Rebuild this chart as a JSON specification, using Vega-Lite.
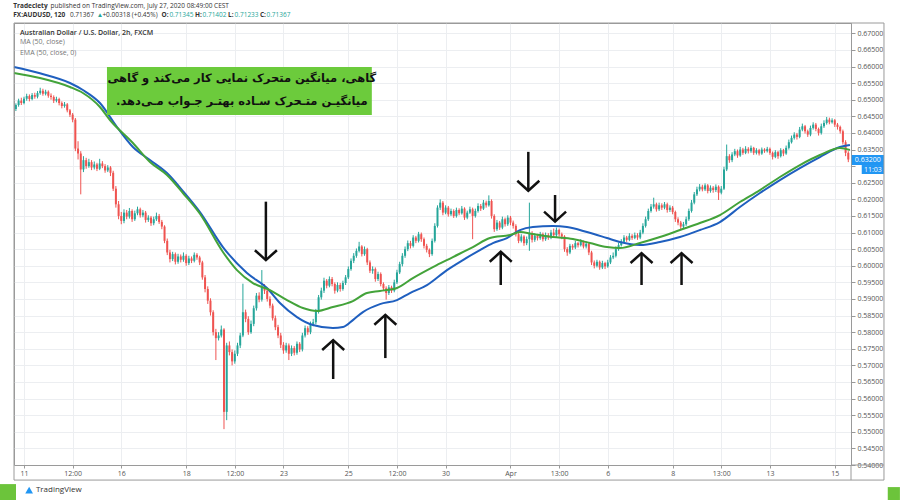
{
"$schema":"https://vega.github.io/schema/vega-lite/v6.json",
"width":837,"height":442,
"autosize":{"type":"none"},
"padding":{"left":14,"top":23,"right":49,"bottom":35},
"background":"white",
"config":{"view":{"stroke":"#9a9a9a"},"font":"Open Sans"},
"datasets":{
"candles":[
{"t":-3,"o":0.6472,"h":0.6489,"l":0.6466,"c":0.6484},
{"t":-2,"o":0.6484,"h":0.6503,"l":0.6479,"c":0.6497},
{"t":-1,"o":0.6497,"h":0.6506,"l":0.6484,"c":0.6490},
{"t":0,"o":0.6490,"h":0.6509,"l":0.6486,"c":0.6503},
{"t":1,"o":0.6503,"h":0.6518,"l":0.6497,"c":0.6511},
{"t":2,"o":0.6511,"h":0.6516,"l":0.6495,"c":0.6502},
{"t":3,"o":0.6502,"h":0.6520,"l":0.6498,"c":0.6514},
{"t":4,"o":0.6514,"h":0.6521,"l":0.6503,"c":0.6509},
{"t":5,"o":0.6509,"h":0.6526,"l":0.6504,"c":0.6520},
{"t":6,"o":0.6520,"h":0.6536,"l":0.6515,"c":0.6527},
{"t":7,"o":0.6527,"h":0.6533,"l":0.6512,"c":0.6518},
{"t":8,"o":0.6518,"h":0.6530,"l":0.6513,"c":0.6524},
{"t":9,"o":0.6524,"h":0.6528,"l":0.6506,"c":0.6512},
{"t":10,"o":0.6512,"h":0.6519,"l":0.6500,"c":0.6508},
{"t":11,"o":0.6508,"h":0.6513,"l":0.6490,"c":0.6497},
{"t":12,"o":0.6497,"h":0.6509,"l":0.6492,"c":0.6502},
{"t":13,"o":0.6502,"h":0.6506,"l":0.6483,"c":0.6490},
{"t":14,"o":0.6490,"h":0.6495,"l":0.6474,"c":0.6481},
{"t":15,"o":0.6481,"h":0.6493,"l":0.6476,"c":0.6486},
{"t":16,"o":0.6486,"h":0.6490,"l":0.6462,"c":0.6468},
{"t":17,"o":0.6468,"h":0.6472,"l":0.6448,"c":0.6455},
{"t":18,"o":0.6455,"h":0.6460,"l":0.6432,"c":0.6440},
{"t":19,"o":0.6440,"h":0.6445,"l":0.6345,"c":0.6353},
{"t":20,"o":0.6353,"h":0.6375,"l":0.6320,"c":0.6338},
{"t":21,"o":0.6338,"h":0.6345,"l":0.6215,"c":0.6290},
{"t":22,"o":0.6290,"h":0.6330,"l":0.6282,"c":0.6318},
{"t":23,"o":0.6318,"h":0.6325,"l":0.6292,"c":0.6300},
{"t":24,"o":0.6300,"h":0.6322,"l":0.6295,"c":0.6312},
{"t":25,"o":0.6312,"h":0.6318,"l":0.6288,"c":0.6296},
{"t":26,"o":0.6296,"h":0.6314,"l":0.6290,"c":0.6305},
{"t":27,"o":0.6305,"h":0.6310,"l":0.6285,"c":0.6292},
{"t":28,"o":0.6292,"h":0.6322,"l":0.6288,"c":0.6308},
{"t":29,"o":0.6308,"h":0.6315,"l":0.6294,"c":0.6300},
{"t":30,"o":0.6300,"h":0.6306,"l":0.6280,"c":0.6287},
{"t":31,"o":0.6287,"h":0.6303,"l":0.6282,"c":0.6296},
{"t":32,"o":0.6296,"h":0.6300,"l":0.6270,"c":0.6280},
{"t":33,"o":0.6280,"h":0.6286,"l":0.6225,"c":0.6232},
{"t":34,"o":0.6232,"h":0.6240,"l":0.6175,"c":0.6185},
{"t":35,"o":0.6185,"h":0.6195,"l":0.6140,"c":0.6150},
{"t":36,"o":0.6150,"h":0.6162,"l":0.6125,"c":0.6135},
{"t":37,"o":0.6135,"h":0.6170,"l":0.6128,"c":0.6160},
{"t":38,"o":0.6160,"h":0.6168,"l":0.6140,"c":0.6148},
{"t":39,"o":0.6148,"h":0.6174,"l":0.6142,"c":0.6165},
{"t":40,"o":0.6165,"h":0.6170,"l":0.6132,"c":0.6140},
{"t":41,"o":0.6140,"h":0.6166,"l":0.6135,"c":0.6158},
{"t":42,"o":0.6158,"h":0.6178,"l":0.6152,"c":0.6170},
{"t":43,"o":0.6170,"h":0.6175,"l":0.6145,"c":0.6152},
{"t":44,"o":0.6152,"h":0.6168,"l":0.6146,"c":0.6160},
{"t":45,"o":0.6160,"h":0.6165,"l":0.6130,"c":0.6138},
{"t":46,"o":0.6138,"h":0.6152,"l":0.6132,"c":0.6145},
{"t":47,"o":0.6145,"h":0.6150,"l":0.6120,"c":0.6128},
{"t":48,"o":0.6128,"h":0.6148,"l":0.6122,"c":0.6140},
{"t":49,"o":0.6140,"h":0.6160,"l":0.6135,"c":0.6150},
{"t":50,"o":0.6150,"h":0.6156,"l":0.6126,"c":0.6132},
{"t":51,"o":0.6132,"h":0.6138,"l":0.6110,"c":0.6118},
{"t":52,"o":0.6118,"h":0.6122,"l":0.6068,"c":0.6075},
{"t":53,"o":0.6075,"h":0.6082,"l":0.6032,"c":0.6040},
{"t":54,"o":0.6040,"h":0.6048,"l":0.6010,"c":0.6020},
{"t":55,"o":0.6020,"h":0.6042,"l":0.6014,"c":0.6035},
{"t":56,"o":0.6035,"h":0.6040,"l":0.6004,"c":0.6012},
{"t":57,"o":0.6012,"h":0.6036,"l":0.6006,"c":0.6028},
{"t":58,"o":0.6028,"h":0.6034,"l":0.6010,"c":0.6018},
{"t":59,"o":0.6018,"h":0.6040,"l":0.6012,"c":0.6030},
{"t":60,"o":0.6030,"h":0.6035,"l":0.6000,"c":0.6008},
{"t":61,"o":0.6008,"h":0.6030,"l":0.6002,"c":0.6022},
{"t":62,"o":0.6022,"h":0.6028,"l":0.6008,"c":0.6015},
{"t":63,"o":0.6015,"h":0.6040,"l":0.6010,"c":0.6033},
{"t":64,"o":0.6033,"h":0.6038,"l":0.6018,"c":0.6025},
{"t":65,"o":0.6025,"h":0.6030,"l":0.6002,"c":0.6010},
{"t":66,"o":0.6010,"h":0.6015,"l":0.5958,"c":0.5965},
{"t":67,"o":0.5965,"h":0.5972,"l":0.5920,"c":0.5930},
{"t":68,"o":0.5930,"h":0.5938,"l":0.5885,"c":0.5895},
{"t":69,"o":0.5895,"h":0.5902,"l":0.5850,"c":0.5860},
{"t":70,"o":0.5860,"h":0.5866,"l":0.5790,"c":0.5800},
{"t":71,"o":0.5800,"h":0.5810,"l":0.5716,"c":0.5782},
{"t":72,"o":0.5782,"h":0.5800,"l":0.5775,"c":0.5790},
{"t":73,"o":0.5790,"h":0.5820,"l":0.5784,"c":0.5808},
{"t":74,"o":0.5808,"h":0.5812,"l":0.5508,"c":0.5560},
{"t":75,"o":0.5560,"h":0.5768,"l":0.5535,"c":0.5760},
{"t":76,"o":0.5760,"h":0.5772,"l":0.5730,"c":0.5740},
{"t":77,"o":0.5740,"h":0.5748,"l":0.5700,"c":0.5712},
{"t":78,"o":0.5712,"h":0.5745,"l":0.5705,"c":0.5735},
{"t":79,"o":0.5735,"h":0.5768,"l":0.5728,"c":0.5760},
{"t":80,"o":0.5760,"h":0.5798,"l":0.5752,"c":0.5790},
{"t":81,"o":0.5790,"h":0.5946,"l":0.5785,"c":0.5860},
{"t":82,"o":0.5860,"h":0.5868,"l":0.5830,"c":0.5840},
{"t":83,"o":0.5840,"h":0.5848,"l":0.5792,"c":0.5800},
{"t":84,"o":0.5800,"h":0.5835,"l":0.5795,"c":0.5825},
{"t":85,"o":0.5825,"h":0.5880,"l":0.5818,"c":0.5872},
{"t":86,"o":0.5872,"h":0.5918,"l":0.5865,"c":0.5910},
{"t":87,"o":0.5910,"h":0.5920,"l":0.5890,"c":0.5898},
{"t":88,"o":0.5898,"h":0.5987,"l":0.5892,"c":0.5935},
{"t":89,"o":0.5935,"h":0.5945,"l":0.5915,"c":0.5925},
{"t":90,"o":0.5925,"h":0.5932,"l":0.5892,"c":0.5900},
{"t":91,"o":0.5900,"h":0.5908,"l":0.5872,"c":0.5880},
{"t":92,"o":0.5880,"h":0.5886,"l":0.5835,"c":0.5842},
{"t":93,"o":0.5842,"h":0.5850,"l":0.5806,"c":0.5815},
{"t":94,"o":0.5815,"h":0.5822,"l":0.5782,"c":0.5790},
{"t":95,"o":0.5790,"h":0.5798,"l":0.5752,"c":0.5762},
{"t":96,"o":0.5762,"h":0.5770,"l":0.5735,"c":0.5745},
{"t":97,"o":0.5745,"h":0.5768,"l":0.5738,"c":0.5760},
{"t":98,"o":0.5760,"h":0.5766,"l":0.5716,"c":0.5735},
{"t":99,"o":0.5735,"h":0.5760,"l":0.5728,"c":0.5752},
{"t":100,"o":0.5752,"h":0.5758,"l":0.5730,"c":0.5738},
{"t":101,"o":0.5738,"h":0.5772,"l":0.5732,"c":0.5765},
{"t":102,"o":0.5765,"h":0.5770,"l":0.5740,"c":0.5748},
{"t":103,"o":0.5748,"h":0.5798,"l":0.5742,"c":0.5790},
{"t":104,"o":0.5790,"h":0.5820,"l":0.5784,"c":0.5812},
{"t":105,"o":0.5812,"h":0.5818,"l":0.5792,"c":0.5800},
{"t":106,"o":0.5800,"h":0.5832,"l":0.5794,"c":0.5825},
{"t":107,"o":0.5825,"h":0.5840,"l":0.5818,"c":0.5830},
{"t":108,"o":0.5830,"h":0.5870,"l":0.5824,"c":0.5862},
{"t":109,"o":0.5862,"h":0.5912,"l":0.5856,"c":0.5905},
{"t":110,"o":0.5905,"h":0.5934,"l":0.5898,"c":0.5925},
{"t":111,"o":0.5925,"h":0.5964,"l":0.5918,"c":0.5955},
{"t":112,"o":0.5955,"h":0.5960,"l":0.5932,"c":0.5940},
{"t":113,"o":0.5940,"h":0.5968,"l":0.5935,"c":0.5960},
{"t":114,"o":0.5960,"h":0.5966,"l":0.5938,"c":0.5945},
{"t":115,"o":0.5945,"h":0.5950,"l":0.5916,"c":0.5925},
{"t":116,"o":0.5925,"h":0.5950,"l":0.5920,"c":0.5942},
{"t":117,"o":0.5942,"h":0.5948,"l":0.5922,"c":0.5930},
{"t":118,"o":0.5930,"h":0.5955,"l":0.5925,"c":0.5948},
{"t":119,"o":0.5948,"h":0.5972,"l":0.5942,"c":0.5965},
{"t":120,"o":0.5965,"h":0.5998,"l":0.5960,"c":0.5990},
{"t":121,"o":0.5990,"h":0.6022,"l":0.5985,"c":0.6015},
{"t":122,"o":0.6015,"h":0.6038,"l":0.6008,"c":0.6030},
{"t":123,"o":0.6030,"h":0.6052,"l":0.6024,"c":0.6045},
{"t":124,"o":0.6045,"h":0.6072,"l":0.6040,"c":0.6058},
{"t":125,"o":0.6058,"h":0.6062,"l":0.6028,"c":0.6035},
{"t":126,"o":0.6035,"h":0.6058,"l":0.6030,"c":0.6050},
{"t":127,"o":0.6050,"h":0.6054,"l":0.6002,"c":0.6010},
{"t":128,"o":0.6010,"h":0.6016,"l":0.5978,"c":0.5985},
{"t":129,"o":0.5985,"h":0.5998,"l":0.5976,"c":0.5990},
{"t":130,"o":0.5990,"h":0.5995,"l":0.5952,"c":0.5960},
{"t":131,"o":0.5960,"h":0.5982,"l":0.5954,"c":0.5975},
{"t":132,"o":0.5975,"h":0.5980,"l":0.5938,"c":0.5945},
{"t":133,"o":0.5945,"h":0.5950,"l":0.5925,"c":0.5932},
{"t":134,"o":0.5932,"h":0.5938,"l":0.5898,"c":0.5918},
{"t":135,"o":0.5918,"h":0.5942,"l":0.5912,"c":0.5935},
{"t":136,"o":0.5935,"h":0.5940,"l":0.5918,"c":0.5925},
{"t":137,"o":0.5925,"h":0.5958,"l":0.5920,"c":0.5950},
{"t":138,"o":0.5950,"h":0.5988,"l":0.5945,"c":0.5980},
{"t":139,"o":0.5980,"h":0.6012,"l":0.5975,"c":0.6005},
{"t":140,"o":0.6005,"h":0.6038,"l":0.5998,"c":0.6030},
{"t":141,"o":0.6030,"h":0.6058,"l":0.6024,"c":0.6050},
{"t":142,"o":0.6050,"h":0.6076,"l":0.6044,"c":0.6068},
{"t":143,"o":0.6068,"h":0.6075,"l":0.6052,"c":0.6060},
{"t":144,"o":0.6060,"h":0.6092,"l":0.6055,"c":0.6085},
{"t":145,"o":0.6085,"h":0.6090,"l":0.6068,"c":0.6075},
{"t":146,"o":0.6075,"h":0.6102,"l":0.6070,"c":0.6095},
{"t":147,"o":0.6095,"h":0.6100,"l":0.6072,"c":0.6080},
{"t":148,"o":0.6080,"h":0.6085,"l":0.6052,"c":0.6060},
{"t":149,"o":0.6060,"h":0.6066,"l":0.6040,"c":0.6048},
{"t":150,"o":0.6048,"h":0.6052,"l":0.6026,"c":0.6035},
{"t":151,"o":0.6035,"h":0.6082,"l":0.6030,"c":0.6075},
{"t":152,"o":0.6075,"h":0.6128,"l":0.6070,"c":0.6120},
{"t":153,"o":0.6120,"h":0.6182,"l":0.6115,"c":0.6175},
{"t":154,"o":0.6175,"h":0.6200,"l":0.6168,"c":0.6190},
{"t":155,"o":0.6190,"h":0.6195,"l":0.6152,"c":0.6160},
{"t":156,"o":0.6160,"h":0.6182,"l":0.6155,"c":0.6175},
{"t":157,"o":0.6175,"h":0.6180,"l":0.6148,"c":0.6155},
{"t":158,"o":0.6155,"h":0.6172,"l":0.6150,"c":0.6165},
{"t":159,"o":0.6165,"h":0.6170,"l":0.6144,"c":0.6150},
{"t":160,"o":0.6150,"h":0.6175,"l":0.6145,"c":0.6168},
{"t":161,"o":0.6168,"h":0.6173,"l":0.6152,"c":0.6158},
{"t":162,"o":0.6158,"h":0.6180,"l":0.6154,"c":0.6172},
{"t":163,"o":0.6172,"h":0.6176,"l":0.6138,"c":0.6145},
{"t":164,"o":0.6145,"h":0.6166,"l":0.6140,"c":0.6160},
{"t":165,"o":0.6160,"h":0.6178,"l":0.6156,"c":0.6170},
{"t":166,"o":0.6170,"h":0.6175,"l":0.6080,"c":0.6150},
{"t":167,"o":0.6150,"h":0.6172,"l":0.6145,"c":0.6165},
{"t":168,"o":0.6165,"h":0.6188,"l":0.6160,"c":0.6180},
{"t":169,"o":0.6180,"h":0.6186,"l":0.6165,"c":0.6172},
{"t":170,"o":0.6172,"h":0.6198,"l":0.6168,"c":0.6190},
{"t":171,"o":0.6190,"h":0.6196,"l":0.6175,"c":0.6182},
{"t":172,"o":0.6182,"h":0.6212,"l":0.6178,"c":0.6195},
{"t":173,"o":0.6195,"h":0.6200,"l":0.6142,"c":0.6150},
{"t":174,"o":0.6150,"h":0.6155,"l":0.6102,"c":0.6110},
{"t":175,"o":0.6110,"h":0.6138,"l":0.6105,"c":0.6130},
{"t":176,"o":0.6130,"h":0.6135,"l":0.6108,"c":0.6115},
{"t":177,"o":0.6115,"h":0.6148,"l":0.6110,"c":0.6140},
{"t":178,"o":0.6140,"h":0.6145,"l":0.6118,"c":0.6125},
{"t":179,"o":0.6125,"h":0.6152,"l":0.6120,"c":0.6145},
{"t":180,"o":0.6145,"h":0.6150,"l":0.6122,"c":0.6130},
{"t":181,"o":0.6130,"h":0.6136,"l":0.6112,"c":0.6120},
{"t":182,"o":0.6120,"h":0.6125,"l":0.6088,"c":0.6095},
{"t":183,"o":0.6095,"h":0.6100,"l":0.6068,"c":0.6075},
{"t":184,"o":0.6075,"h":0.6095,"l":0.6070,"c":0.6088},
{"t":185,"o":0.6088,"h":0.6092,"l":0.6060,"c":0.6068},
{"t":186,"o":0.6068,"h":0.6088,"l":0.6062,"c":0.6080},
{"t":187,"o":0.6080,"h":0.6190,"l":0.6045,"c":0.6098},
{"t":188,"o":0.6098,"h":0.6104,"l":0.6070,"c":0.6078},
{"t":189,"o":0.6078,"h":0.6098,"l":0.6072,"c":0.6090},
{"t":190,"o":0.6090,"h":0.6096,"l":0.6076,"c":0.6083},
{"t":191,"o":0.6083,"h":0.6102,"l":0.6078,"c":0.6095},
{"t":192,"o":0.6095,"h":0.6100,"l":0.6073,"c":0.6080},
{"t":193,"o":0.6080,"h":0.6100,"l":0.6075,"c":0.6092},
{"t":194,"o":0.6092,"h":0.6098,"l":0.6078,"c":0.6085},
{"t":195,"o":0.6085,"h":0.6108,"l":0.6080,"c":0.6100},
{"t":196,"o":0.6100,"h":0.6112,"l":0.6086,"c":0.6092},
{"t":197,"o":0.6092,"h":0.6115,"l":0.6086,"c":0.6108},
{"t":198,"o":0.6108,"h":0.6112,"l":0.6088,"c":0.6095},
{"t":199,"o":0.6095,"h":0.6100,"l":0.6080,"c":0.6088},
{"t":200,"o":0.6088,"h":0.6092,"l":0.6042,"c":0.6050},
{"t":201,"o":0.6050,"h":0.6056,"l":0.6030,"c":0.6040},
{"t":202,"o":0.6040,"h":0.6066,"l":0.6035,"c":0.6060},
{"t":203,"o":0.6060,"h":0.6065,"l":0.6048,"c":0.6055},
{"t":204,"o":0.6055,"h":0.6075,"l":0.6050,"c":0.6068},
{"t":205,"o":0.6068,"h":0.6072,"l":0.6055,"c":0.6062},
{"t":206,"o":0.6062,"h":0.6080,"l":0.6058,"c":0.6072},
{"t":207,"o":0.6072,"h":0.6076,"l":0.6052,"c":0.6058},
{"t":208,"o":0.6058,"h":0.6073,"l":0.6052,"c":0.6066},
{"t":209,"o":0.6066,"h":0.6070,"l":0.6032,"c":0.6040},
{"t":210,"o":0.6040,"h":0.6045,"l":0.6002,"c":0.6010},
{"t":211,"o":0.6010,"h":0.6016,"l":0.5992,"c":0.6000},
{"t":212,"o":0.6000,"h":0.6018,"l":0.5995,"c":0.6012},
{"t":213,"o":0.6012,"h":0.6016,"l":0.5988,"c":0.5995},
{"t":214,"o":0.5995,"h":0.6015,"l":0.5990,"c":0.6008},
{"t":215,"o":0.6008,"h":0.6012,"l":0.5990,"c":0.5998},
{"t":216,"o":0.5998,"h":0.6018,"l":0.5994,"c":0.6010},
{"t":217,"o":0.6010,"h":0.6032,"l":0.6005,"c":0.6025},
{"t":218,"o":0.6025,"h":0.6040,"l":0.6020,"c":0.6030},
{"t":219,"o":0.6030,"h":0.6058,"l":0.6025,"c":0.6050},
{"t":220,"o":0.6050,"h":0.6070,"l":0.6045,"c":0.6062},
{"t":221,"o":0.6062,"h":0.6080,"l":0.6058,"c":0.6072},
{"t":222,"o":0.6072,"h":0.6092,"l":0.6068,"c":0.6085},
{"t":223,"o":0.6085,"h":0.6090,"l":0.6072,"c":0.6078},
{"t":224,"o":0.6078,"h":0.6098,"l":0.6074,"c":0.6090},
{"t":225,"o":0.6090,"h":0.6095,"l":0.6078,"c":0.6084},
{"t":226,"o":0.6084,"h":0.6100,"l":0.6080,"c":0.6092},
{"t":227,"o":0.6092,"h":0.6098,"l":0.6078,"c":0.6085},
{"t":228,"o":0.6085,"h":0.6108,"l":0.6080,"c":0.6100},
{"t":229,"o":0.6100,"h":0.6128,"l":0.6095,"c":0.6120},
{"t":230,"o":0.6120,"h":0.6148,"l":0.6115,"c":0.6140},
{"t":231,"o":0.6140,"h":0.6172,"l":0.6135,"c":0.6165},
{"t":232,"o":0.6165,"h":0.6186,"l":0.6160,"c":0.6178},
{"t":233,"o":0.6178,"h":0.6205,"l":0.6172,"c":0.6185},
{"t":234,"o":0.6185,"h":0.6190,"l":0.6163,"c":0.6170},
{"t":235,"o":0.6170,"h":0.6190,"l":0.6165,"c":0.6182},
{"t":236,"o":0.6182,"h":0.6188,"l":0.6168,"c":0.6175},
{"t":237,"o":0.6175,"h":0.6192,"l":0.6170,"c":0.6185},
{"t":238,"o":0.6185,"h":0.6190,"l":0.6160,"c":0.6168},
{"t":239,"o":0.6168,"h":0.6182,"l":0.6162,"c":0.6175},
{"t":240,"o":0.6175,"h":0.6180,"l":0.6155,"c":0.6162},
{"t":241,"o":0.6162,"h":0.6166,"l":0.6132,"c":0.6140},
{"t":242,"o":0.6140,"h":0.6146,"l":0.6122,"c":0.6130},
{"t":243,"o":0.6130,"h":0.6135,"l":0.6108,"c":0.6118},
{"t":244,"o":0.6118,"h":0.6132,"l":0.6112,"c":0.6125},
{"t":245,"o":0.6125,"h":0.6148,"l":0.6120,"c":0.6140},
{"t":246,"o":0.6140,"h":0.6172,"l":0.6135,"c":0.6165},
{"t":247,"o":0.6165,"h":0.6198,"l":0.6160,"c":0.6190},
{"t":248,"o":0.6190,"h":0.6222,"l":0.6185,"c":0.6215},
{"t":249,"o":0.6215,"h":0.6238,"l":0.6210,"c":0.6230},
{"t":250,"o":0.6230,"h":0.6246,"l":0.6224,"c":0.6238},
{"t":251,"o":0.6238,"h":0.6244,"l":0.6224,"c":0.6230},
{"t":252,"o":0.6230,"h":0.6248,"l":0.6225,"c":0.6242},
{"t":253,"o":0.6242,"h":0.6246,"l":0.6218,"c":0.6225},
{"t":254,"o":0.6225,"h":0.6242,"l":0.6220,"c":0.6235},
{"t":255,"o":0.6235,"h":0.6240,"l":0.6220,"c":0.6228},
{"t":256,"o":0.6228,"h":0.6245,"l":0.6222,"c":0.6238},
{"t":257,"o":0.6238,"h":0.6242,"l":0.6198,"c":0.6220},
{"t":258,"o":0.6220,"h":0.6240,"l":0.6215,"c":0.6232},
{"t":259,"o":0.6232,"h":0.6298,"l":0.6228,"c":0.6290},
{"t":260,"o":0.6290,"h":0.6365,"l":0.6285,"c":0.6330},
{"t":261,"o":0.6330,"h":0.6336,"l":0.6310,"c":0.6318},
{"t":262,"o":0.6318,"h":0.6342,"l":0.6312,"c":0.6335},
{"t":263,"o":0.6335,"h":0.6352,"l":0.6330,"c":0.6345},
{"t":264,"o":0.6345,"h":0.6350,"l":0.6325,"c":0.6332},
{"t":265,"o":0.6332,"h":0.6358,"l":0.6328,"c":0.6350},
{"t":266,"o":0.6350,"h":0.6355,"l":0.6334,"c":0.6340},
{"t":267,"o":0.6340,"h":0.6360,"l":0.6336,"c":0.6352},
{"t":268,"o":0.6352,"h":0.6357,"l":0.6338,"c":0.6345},
{"t":269,"o":0.6345,"h":0.6362,"l":0.6340,"c":0.6355},
{"t":270,"o":0.6355,"h":0.6358,"l":0.6334,"c":0.6340},
{"t":271,"o":0.6340,"h":0.6354,"l":0.6335,"c":0.6348},
{"t":272,"o":0.6348,"h":0.6352,"l":0.6332,"c":0.6338},
{"t":273,"o":0.6338,"h":0.6356,"l":0.6334,"c":0.6350},
{"t":274,"o":0.6350,"h":0.6354,"l":0.6340,"c":0.6345},
{"t":275,"o":0.6345,"h":0.6358,"l":0.6341,"c":0.6352},
{"t":276,"o":0.6352,"h":0.6356,"l":0.6334,"c":0.6340},
{"t":277,"o":0.6340,"h":0.6344,"l":0.6320,"c":0.6328},
{"t":278,"o":0.6328,"h":0.6348,"l":0.6324,"c":0.6342},
{"t":279,"o":0.6342,"h":0.6346,"l":0.6322,"c":0.6330},
{"t":280,"o":0.6330,"h":0.6354,"l":0.6326,"c":0.6348},
{"t":281,"o":0.6348,"h":0.6352,"l":0.6330,"c":0.6338},
{"t":282,"o":0.6338,"h":0.6362,"l":0.6334,"c":0.6355},
{"t":283,"o":0.6355,"h":0.6380,"l":0.6350,"c":0.6372},
{"t":284,"o":0.6372,"h":0.6392,"l":0.6368,"c":0.6385},
{"t":285,"o":0.6385,"h":0.6402,"l":0.6380,"c":0.6395},
{"t":286,"o":0.6395,"h":0.6400,"l":0.6380,"c":0.6388},
{"t":287,"o":0.6388,"h":0.6418,"l":0.6384,"c":0.6410},
{"t":288,"o":0.6410,"h":0.6428,"l":0.6405,"c":0.6420},
{"t":289,"o":0.6420,"h":0.6424,"l":0.6398,"c":0.6405},
{"t":290,"o":0.6405,"h":0.6410,"l":0.6388,"c":0.6395},
{"t":291,"o":0.6395,"h":0.6422,"l":0.6390,"c":0.6415},
{"t":292,"o":0.6415,"h":0.6432,"l":0.6410,"c":0.6425},
{"t":293,"o":0.6425,"h":0.6430,"l":0.6405,"c":0.6412},
{"t":294,"o":0.6412,"h":0.6416,"l":0.6392,"c":0.6400},
{"t":295,"o":0.6400,"h":0.6428,"l":0.6395,"c":0.6420},
{"t":296,"o":0.6420,"h":0.6438,"l":0.6415,"c":0.6430},
{"t":297,"o":0.6430,"h":0.6448,"l":0.6425,"c":0.6440},
{"t":298,"o":0.6440,"h":0.6446,"l":0.6426,"c":0.6432},
{"t":299,"o":0.6432,"h":0.6444,"l":0.6428,"c":0.6438},
{"t":300,"o":0.6438,"h":0.6442,"l":0.6418,"c":0.6425},
{"t":301,"o":0.6425,"h":0.6430,"l":0.6410,"c":0.6418},
{"t":302,"o":0.6418,"h":0.6422,"l":0.6398,"c":0.6405},
{"t":303,"o":0.6405,"h":0.6410,"l":0.6365,"c":0.6372},
{"t":304,"o":0.6372,"h":0.6378,"l":0.6330,"c":0.6340},
{"t":305,"o":0.6340,"h":0.6345,"l":0.6312,"c":0.6320}
],
"ma":[
{"t":-3.7,"p":0.65985,"s":"MA"},{"t":5.9,"p":0.65795,"s":"MA"},{"t":17.0,"p":0.65503,"s":"MA"},{"t":21.8,"p":0.65292,"s":"MA"},{"t":28.1,"p":0.64901,"s":"MA"},{"t":34.4,"p":0.64178,"s":"MA"},{"t":40.3,"p":0.63575,"s":"MA"},{"t":46.6,"p":0.63184,"s":"MA"},{"t":52.9,"p":0.62792,"s":"MA"},{"t":58.8,"p":0.6225,"s":"MA"},{"t":65.1,"p":0.61617,"s":"MA"},{"t":73.6,"p":0.60563,"s":"MA"},{"t":82.5,"p":0.5978,"s":"MA"},{"t":89.9,"p":0.59328,"s":"MA"},{"t":94.7,"p":0.58877,"s":"MA"},{"t":101.0,"p":0.58455,"s":"MA"},{"t":106.9,"p":0.58214,"s":"MA"},{"t":114.3,"p":0.58123,"s":"MA"},{"t":118.0,"p":0.58153,"s":"MA"},{"t":121.7,"p":0.58364,"s":"MA"},{"t":125.4,"p":0.58605,"s":"MA"},{"t":131.7,"p":0.58846,"s":"MA"},{"t":138.0,"p":0.58967,"s":"MA"},{"t":142.8,"p":0.59178,"s":"MA"},{"t":149.1,"p":0.59419,"s":"MA"},{"t":156.5,"p":0.5987,"s":"MA"},{"t":162.4,"p":0.60172,"s":"MA"},{"t":168.7,"p":0.60473,"s":"MA"},{"t":173.5,"p":0.60684,"s":"MA"},{"t":178.7,"p":0.60834,"s":"MA"},{"t":183.5,"p":0.61075,"s":"MA"},{"t":188.3,"p":0.61166,"s":"MA"},{"t":195.7,"p":0.61196,"s":"MA"},{"t":200.9,"p":0.61166,"s":"MA"},{"t":208.3,"p":0.61015,"s":"MA"},{"t":215.7,"p":0.60834,"s":"MA"},{"t":220.5,"p":0.60714,"s":"MA"},{"t":227.9,"p":0.60623,"s":"MA"},{"t":235.3,"p":0.60714,"s":"MA"},{"t":242.7,"p":0.60864,"s":"MA"},{"t":250.1,"p":0.61075,"s":"MA"},{"t":257.5,"p":0.61316,"s":"MA"},{"t":264.9,"p":0.61768,"s":"MA"},{"t":272.3,"p":0.6219,"s":"MA"},{"t":279.7,"p":0.62581,"s":"MA"},{"t":287.1,"p":0.62943,"s":"MA"},{"t":294.5,"p":0.63274,"s":"MA"},{"t":301.9,"p":0.63575,"s":"MA"},{"t":305.6,"p":0.63636,"s":"MA"},
{"t":-3.7,"p":0.65804,"s":"EMA"},{"t":5.9,"p":0.65654,"s":"EMA"},{"t":17.0,"p":0.65383,"s":"EMA"},{"t":21.8,"p":0.65202,"s":"EMA"},{"t":28.1,"p":0.6478,"s":"EMA"},{"t":31.8,"p":0.64389,"s":"EMA"},{"t":40.3,"p":0.63696,"s":"EMA"},{"t":46.6,"p":0.63124,"s":"EMA"},{"t":52.9,"p":0.62732,"s":"EMA"},{"t":58.8,"p":0.6219,"s":"EMA"},{"t":65.1,"p":0.61567,"s":"EMA"},{"t":73.6,"p":0.60413,"s":"EMA"},{"t":78.8,"p":0.5987,"s":"EMA"},{"t":84.7,"p":0.59479,"s":"EMA"},{"t":91.0,"p":0.59268,"s":"EMA"},{"t":97.3,"p":0.58967,"s":"EMA"},{"t":103.2,"p":0.58726,"s":"EMA"},{"t":108.4,"p":0.58636,"s":"EMA"},{"t":114.3,"p":0.58756,"s":"EMA"},{"t":121.7,"p":0.58937,"s":"EMA"},{"t":126.9,"p":0.59178,"s":"EMA"},{"t":131.7,"p":0.59238,"s":"EMA"},{"t":138.0,"p":0.59328,"s":"EMA"},{"t":143.9,"p":0.5963,"s":"EMA"},{"t":151.3,"p":0.59961,"s":"EMA"},{"t":158.7,"p":0.60262,"s":"EMA"},{"t":166.1,"p":0.60563,"s":"EMA"},{"t":172.4,"p":0.60834,"s":"EMA"},{"t":179.8,"p":0.60925,"s":"EMA"},{"t":183.5,"p":0.61015,"s":"EMA"},{"t":188.3,"p":0.60955,"s":"EMA"},{"t":195.7,"p":0.60864,"s":"EMA"},{"t":203.1,"p":0.60804,"s":"EMA"},{"t":209.4,"p":0.60684,"s":"EMA"},{"t":215.7,"p":0.60563,"s":"EMA"},{"t":220.5,"p":0.60533,"s":"EMA"},{"t":227.9,"p":0.60684,"s":"EMA"},{"t":235.3,"p":0.60864,"s":"EMA"},{"t":242.7,"p":0.61075,"s":"EMA"},{"t":250.1,"p":0.61286,"s":"EMA"},{"t":257.5,"p":0.61527,"s":"EMA"},{"t":264.9,"p":0.61919,"s":"EMA"},{"t":272.3,"p":0.6228,"s":"EMA"},{"t":279.7,"p":0.62672,"s":"EMA"},{"t":287.1,"p":0.63033,"s":"EMA"},{"t":294.5,"p":0.63334,"s":"EMA"},{"t":301.9,"p":0.63545,"s":"EMA"},{"t":305.6,"p":0.63485,"s":"EMA"}
],
"arrows":[
{"t":89.5,"p":0.6017,"p2":0.6193,"dir":"down"},
{"t":114.4,"p":0.5776,"p2":0.5659,"dir":"up"},
{"t":133.7,"p":0.5852,"p2":0.5722,"dir":"up"},
{"t":176.4,"p":0.6042,"p2":0.5942,"dir":"up"},
{"t":186.6,"p":0.6226,"p2":0.6343,"dir":"down"},
{"t":196.5,"p":0.6133,"p2":0.6213,"dir":"down"},
{"t":228.5,"p":0.6038,"p2":0.5942,"dir":"up"},
{"t":243.3,"p":0.6038,"p2":0.5942,"dir":"up"}
]
},
"encoding":{
"x":{"field":"t","type":"quantitative","scale":{"domain":[-3.7,306.0],"nice":false,"zero":false,"padding":0},
"axis":{"title":null,"values":[0,18,36,60,78,96,120,138,156,180,198,216,240,258,276,300],"labelExpr":"['11','12:00','16','18','12:00','23','25','12:00','30','Apr','13:00','6','8','13:00','13','15'][indexof([0,18,36,60,78,96,120,138,156,180,198,216,240,258,276,300], datum.value)]","labelFontSize":7,"labelColor":"#555","labelFont":"Open Sans","tickSize":3,"tickColor":"#999","domainColor":"#9a9a9a","gridColor":"#eceef1","grid":true,"labelPadding":1,"labelFlush":false}},
"y":{"field":"p","type":"quantitative","scale":{"domain":[0.54,0.6731],"nice":false,"zero":false},
"axis":{"title":null,"orient":"right","values":[0.54,0.545,0.55,0.555,0.56,0.565,0.57,0.575,0.58,0.585,0.59,0.595,0.6,0.605,0.61,0.615,0.62,0.625,0.63,0.635,0.64,0.645,0.65,0.655,0.66,0.665,0.67],"labelExpr":"datum.value > 0.6299 && datum.value < 0.6301 ? '' : format(datum.value, '.5f')","labelFontSize":7,"labelColor":"#555","labelFont":"Open Sans","tickSize":4,"tickColor":"#999","domainColor":"#9a9a9a","gridColor":"#eceef1","grid":true,"labelPadding":2}}
},
"layer":[
{"data":{"name":"candles"},"mark":{"type":"rule","strokeWidth":1},
 "encoding":{"y":{"field":"l","type":"quantitative","scale":{"domain":[0.54,0.6731],"nice":false,"zero":false},
  "axis":{"title":null,"orient":"right","values":[0.54,0.545,0.55,0.555,0.56,0.565,0.57,0.575,0.58,0.585,0.59,0.595,0.6,0.605,0.61,0.615,0.62,0.625,0.63,0.635,0.64,0.645,0.65,0.655,0.66,0.665,0.67],"labelExpr":"datum.value > 0.6299 && datum.value < 0.6301 ? '' : format(datum.value, '.5f')","labelFontSize":7,"labelColor":"#555","labelFont":"Open Sans","tickSize":4,"tickColor":"#999","domainColor":"#9a9a9a","gridColor":"#eceef1","grid":true,"labelPadding":2}},
  "y2":{"field":"h"},
  "color":{"condition":{"test":"datum.c >= datum.o","value":"#26a69a"},"value":"#ef5350"}}},
{"data":{"name":"candles"},"mark":{"type":"bar","size":2},
 "encoding":{"y":{"field":"o","type":"quantitative","scale":{"domain":[0.54,0.6731],"nice":false,"zero":false},
  "axis":{"title":null,"orient":"right","values":[0.54,0.545,0.55,0.555,0.56,0.565,0.57,0.575,0.58,0.585,0.59,0.595,0.6,0.605,0.61,0.615,0.62,0.625,0.63,0.635,0.64,0.645,0.65,0.655,0.66,0.665,0.67],"labelExpr":"datum.value > 0.6299 && datum.value < 0.6301 ? '' : format(datum.value, '.5f')","labelFontSize":7,"labelColor":"#555","labelFont":"Open Sans","tickSize":4,"tickColor":"#999","domainColor":"#9a9a9a","gridColor":"#eceef1","grid":true,"labelPadding":2}},
  "y2":{"field":"c"},
  "color":{"condition":{"test":"datum.c >= datum.o","value":"#26a69a"},"value":"#ef5350"}}},
{"data":{"name":"ma"},"mark":{"type":"line","strokeWidth":2,"interpolate":"monotone"},
 "encoding":{"color":{"field":"s","type":"nominal","scale":{"domain":["MA","EMA"],"range":["#1f5fbf","#43a33a"]},"legend":null}}},
{"data":{"values":[{"t":30.7,"t2":128.7,"p":0.65985,"p2":0.64539}]},"mark":{"type":"rect","color":"#6ccb3c"},
 "encoding":{"x2":{"field":"t2"},"y2":{"field":"p2"}}},
{"data":{"values":[{"t":80.6,"p":0.65624,"text":"\u200fگاهی، میانگین متحرک نمایی کار می\u200cکند و گاهی\u200f"},{"t":80.6,"p":0.64931,"text":"\u200fمیانگیـن متـحرک سـاده بهتـر جـواب مـی\u200cدهد.\u200f"}]},
 "mark":{"type":"text","font":"DejaVu Sans","fontSize":11.5,"fontWeight":"bold","color":"#111","align":"center","baseline":"middle"},
 "encoding":{"text":{"field":"text"}}},
{"data":{"name":"arrows"},"mark":{"type":"rule","strokeWidth":2.5,"color":"#111"},
 "encoding":{"y2":{"field":"p2"}}},
{"data":{"name":"arrows"},"mark":{"type":"point","filled":false,"stroke":"#111","strokeWidth":2.5,"size":484,"opacity":1},
 "encoding":{"shape":{"field":"dir","type":"nominal","scale":{"domain":["down","up"],"range":["M-1,-0.9L0,0L1,-0.9","M-1,0.9L0,0L1,0.9"]},"legend":null}}},
{"data":{"values":[{"t":-1.5,"p":0.67004,"text":"Australian Dollar / U.S. Dollar, 2h, FXCM"}]},
 "mark":{"type":"text","font":"Open Sans","fontSize":7,"fontWeight":600,"color":"#333","align":"left","baseline":"middle"},
 "encoding":{"text":{"field":"text"}}},
{"data":{"values":[{"t":-1.5,"p":0.66738,"text":"MA (50, close)"},{"t":-1.5,"p":0.66407,"text":"EMA (50, close, 0)"}]},
 "mark":{"type":"text","font":"Open Sans","fontSize":7,"color":"#777","align":"left","baseline":"middle"},
 "encoding":{"text":{"field":"text"}}},
{"data":{"values":[{"t":-3.96,"p":0.67822,"text":"Tradeciety"},{"t":-3.96,"p":0.67536,"text":"FX:AUDUSD, 120"},{"t":50.9,"p":0.67536,"text":"O:"},{"t":63.3,"p":0.67536,"text":"H:"},{"t":75.5,"p":0.67536,"text":"L:"},{"t":87.3,"p":0.67536,"text":"C:"}]},
 "mark":{"type":"text","font":"Open Sans","fontSize":6.5,"fontWeight":"bold","color":"#333","align":"left","baseline":"middle"},
 "encoding":{"text":{"field":"text"}}},
{"data":{"values":[{"t":9.8,"p":0.67822,"text":"published on TradingView.com, July 27, 2020 08:49:00 CEST"},{"t":17.0,"p":0.67536,"text":"0.71367"},{"t":29.0,"p":0.67536,"text":"+0.00318 (+0.45%)"}]},
 "mark":{"type":"text","font":"Open Sans","fontSize":6.5,"color":"#333","align":"left","baseline":"middle"},
 "encoding":{"text":{"field":"text"}}},
{"data":{"values":[{"t":26.9,"p":0.67536,"text":"▲"},{"t":53.8,"p":0.67536,"text":"0.71345"},{"t":66.05,"p":0.67536,"text":"0.71402"},{"t":77.9,"p":0.67536,"text":"0.71233"},{"t":89.7,"p":0.67536,"text":"0.71367"}]},
 "mark":{"type":"text","font":"Open Sans","fontSize":6.5,"color":"#26a69a","align":"left","baseline":"middle"},
 "encoding":{"text":{"field":"text"}}},
{"data":{"values":[{"t":306.3,"t2":318.2,"p":0.63334,"p2":0.63033},{"t":309.97,"t2":318.2,"p":0.63033,"p2":0.62762}]},
 "mark":{"type":"rect","color":"#2196f3"},
 "encoding":{"x2":{"field":"t2"},"y2":{"field":"p2"}}},
{"data":{"values":[{"t":312.2,"p":0.63184,"text":"0.63200"},{"t":314.1,"p":0.62898,"text":"11:03"}]},
 "mark":{"type":"text","font":"Open Sans","fontSize":7,"color":"white","align":"center","baseline":"middle"},
 "encoding":{"text":{"field":"text"}}},
{"data":{"values":[{"t":-3.7,"t2":318.2,"p":0.6731,"p2":0.53546}]},
 "mark":{"type":"rect","filled":false,"stroke":"#9a9a9a","strokeWidth":1},
 "encoding":{"x2":{"field":"t2"},"y2":{"field":"p2"}}},
{"data":{"values":[{"t":306.0,"p":0.54,"p2":0.53546}]},
 "mark":{"type":"rule","color":"#9a9a9a","strokeWidth":1},
 "encoding":{"y2":{"field":"p2"}}},
{"data":{"values":[{"t":306.0,"t2":318.2,"p":0.54}]},
 "mark":{"type":"rule","color":"#9a9a9a","strokeWidth":1},
 "encoding":{"x2":{"field":"t2"}}},
{"data":{"values":[{"t":4.4,"p":0.53244,"text":"TradingView"}]},
 "mark":{"type":"text","font":"Open Sans","fontSize":8,"color":"#333","align":"left","baseline":"middle"},
 "encoding":{"text":{"field":"text"}}},
{"data":{"values":[{"t":1.9,"p":0.53244}]},
 "mark":{"type":"point","shape":"triangle-up","filled":true,"color":"#2196f3","size":60,"opacity":1},
 "encoding":{}},
{"data":{"values":[{"t":-8.88,"t2":-2.96,"p":0.53425,"p2":0.52943},{"t":319.6,"t2":324.1,"p":0.53335,"p2":0.52943}]},
 "mark":{"type":"rect","color":"#6cc43b"},
 "encoding":{"x2":{"field":"t2"},"y2":{"field":"p2"}}}
]
}
